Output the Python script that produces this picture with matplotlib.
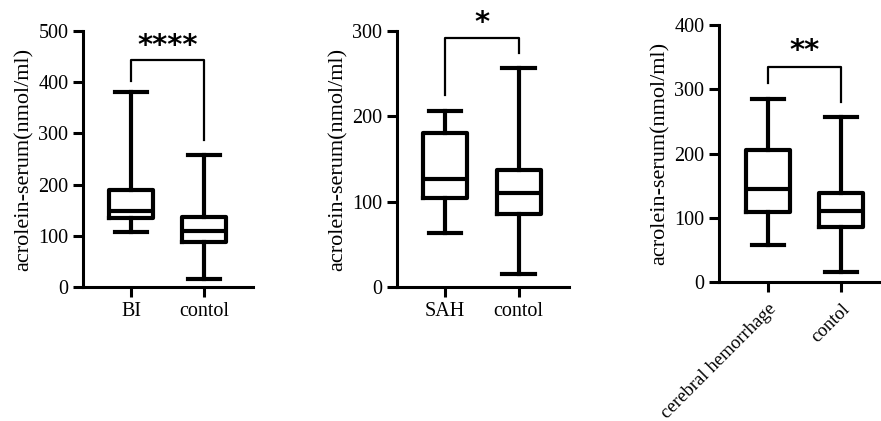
import matplotlib.pyplot as plt

plt.rcParams['font.family'] = ['Liberation Serif', 'DejaVu Serif']

ylabel = 'acrolein-serum(nmol/ml)'

# box stats per panel: whislo, q1, med, q3, whishi
bi_labels = ['BI', 'contol']
bi_stats = [[107, 135, 148, 190, 380], [15, 87, 110, 137, 257]]
sah_labels = ['SAH', 'contol']
sah_stats = [[63, 104, 127, 181, 206], [15, 86, 110, 137, 257]]
ch_labels = ['cerebral hemorrhage', 'contol']
ch_stats = [[57, 109, 145, 205, 285], [15, 86, 110, 138, 257]]

# significance: stars, bracket top, left leg end, right leg end, star y
bi_sig = ['****', 443, 402, 287, 471]
sah_sig = ['*', 292, 225, 274, 309]
ch_sig = ['**', 335, 310, 280, 360]

fig = plt.figure(figsize=(8.81, 4.21), dpi=100)


def panel(rect, labels, stats, sig, ymax, ystep, xlim, rot=0):
    ax = fig.add_axes(rect)
    bxp = []
    for lab, s in zip(labels, stats):
        bxp.append(dict(label=lab, whislo=s[0], q1=s[1], med=s[2], q3=s[3], whishi=s[4], fliers=[]))
    lw = 3.0
    ax.bxp(bxp, positions=[1, 2], widths=0.6, capwidths=0.44, showfliers=False,
           boxprops=dict(linewidth=lw, color='black'),
           medianprops=dict(linewidth=lw, color='black'),
           whiskerprops=dict(linewidth=lw, color='black'),
           capprops=dict(linewidth=lw, color='black'))
    ax.set_xlim(*xlim)
    ax.set_ylim(0, ymax)
    ax.set_yticks(range(0, ymax + 1, ystep))
    for sp in ['top', 'right']:
        ax.spines[sp].set_visible(False)
    for sp in ['left', 'bottom']:
        ax.spines[sp].set_linewidth(2.2)
    ax.tick_params(width=2.2, length=7, labelsize=14.5, direction='out')
    ax.set_ylabel(ylabel, fontsize=16, labelpad=3)
    if rot:
        ax.set_xticks([1, 2], labels, rotation=rot, ha='right', rotation_mode='anchor',
                      fontsize=13.5)
        ax.tick_params(axis='x', pad=6)
    else:
        ax.set_xticks([1, 2], labels)
    stars, top, l_end, r_end, sy = sig
    ax.plot([1, 1, 2, 2], [l_end, top, top, r_end], color='black', lw=1.6, clip_on=False)
    ax.text(1.5, sy, stars, ha='center', va='center', fontsize=21, fontweight='bold',
            family='DejaVu Sans', clip_on=False)
    return ax


panel([0.0942, 0.3183, 0.193, 0.608], bi_labels, bi_stats, bi_sig, 500, 100, (0.34, 2.67))
panel([0.4506, 0.3183, 0.195, 0.608], sah_labels, sah_stats, sah_sig, 300, 100, (0.35, 2.68))
panel([0.816, 0.330, 0.184, 0.610], ch_labels, ch_stats, ch_sig, 400, 100, (0.33, 2.55), rot=45)

fig.savefig('out.png', dpi=100)
